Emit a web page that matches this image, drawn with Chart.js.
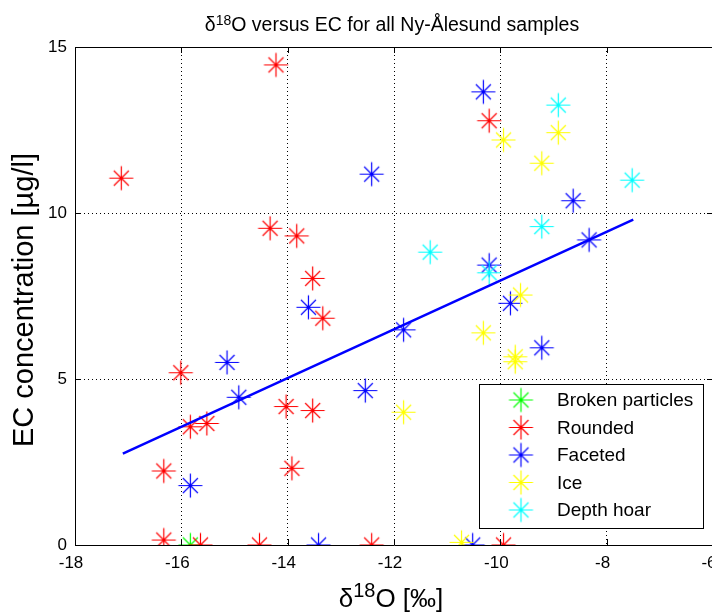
<!DOCTYPE html>
<html>
<head>
<meta charset="utf-8">
<title>d18O versus EC</title>
<script src="https://cdn.jsdelivr.net/npm/chart.js@4.4.1/dist/chart.umd.min.js"></script>
<style>
    html, body { margin: 0; padding: 0; background: #fff; overflow: hidden; }
    #wrap { width: 712px; height: 612px; overflow: hidden; }
    canvas { display: block; }
</style>
</head>
<body>
<div id="wrap"><canvas id="grafico" width="716" height="612"></canvas></div>
<script>
// Ejes
const xTicks = [-18, -16, -14, -12, -10, -8, -6];
const yTicks = [0, 5, 10, 15];

// Muestras por tipo de grano (d18O en permil, EC en ug/l)
const brokenX = [-15.83];
const brokenY = [0];

const roundedX = [-14.22, -17.13, -14.33, -13.83, -13.53, -13.34, -16.01, -15.83, -15.52, -14.03,
                  -13.53, -13.92, -16.33, -16.33, -15.64, -14.53, -12.42, -9.94, -10.21];
const roundedY = [14.46, 11.05, 9.54, 9.31, 8.03, 6.83, 5.19, 3.56, 3.66, 4.17,
                  4.05, 2.31, 2.23, 0.15, 0, 0, 0, 0, 12.78];

const facetedX = [-10.32, -12.42, -8.63, -8.33, -10.21, -9.81, -9.22, -11.82, -12.54, -10.52,
                  -13.61, -15.14, -14.92, -15.83, -13.42];
const facetedY = [13.65, 11.17, 10.37, 9.19, 8.43, 7.28, 5.94, 6.48, 4.65, 0,
                  7.16, 5.50, 4.45, 1.79, 0];

const iceX = [-9.94, -8.91, -9.22, -9.62, -10.32, -9.72, -9.72, -11.82, -10.73];
const iceY = [12.2, 12.42, 11.5, 7.53, 6.39, 5.67, 5.52, 4.0, 0.08];

const hoarX = [-8.91, -7.52, -9.22, -11.32, -10.21];
const hoarY = [13.25, 10.99, 9.59, 8.82, 8.2];

// Recta de regresion
const fitX = [-17.1, -7.5];
const fitY = [2.75, 9.8];

const FONT = "'Liberation Sans', Arial, sans-serif";

const puntos = (xs, ys) => xs.map((x, i) => ({ x: x, y: ys[i] }));

// Asterisco estilo MATLAB (brazos diagonales algo mas cortos)
function asterisco(color) {
    const c = document.createElement("canvas");
    c.width = 27;
    c.height = 27;
    const g = c.getContext("2d");
    const m = 13.5, r = 12, d = 7.5;
    g.strokeStyle = color;
    g.lineWidth = 1.2;
    g.beginPath();
    g.moveTo(m - r, m); g.lineTo(m + r, m);
    g.moveTo(m, m - r); g.lineTo(m, m + r);
    g.moveTo(m - d, m - d); g.lineTo(m + d, m + d);
    g.moveTo(m - d, m + d); g.lineTo(m + d, m - d);
    g.stroke();
    g.fillStyle = color;
    g.beginPath();
    g.arc(m, m, 1.6, 0, Math.PI * 2);
    g.fill();
    return c;
}

const series = [
    { label: "Broken particles", xs: brokenX, ys: brokenY, color: "#00ff00" },
    { label: "Rounded", xs: roundedX, ys: roundedY, color: "#ff0000" },
    { label: "Faceted", xs: facetedX, ys: facetedY, color: "#0000ff" },
    { label: "Ice", xs: iceX, ys: iceY, color: "#ffff00" },
    { label: "Depth hoar", xs: hoarX, ys: hoarY, color: "#00ffff" }
];

const datasets = series.map((s, i) => ({
    type: "scatter",
    label: s.label,
    data: puntos(s.xs, s.ys),
    pointStyle: asterisco(s.color),
    pointRadius: 12,
    borderColor: s.color,
    backgroundColor: s.color,
    order: series.length - i
}));

datasets.push({
    type: "line",
    label: "fit",
    data: puntos(fitX, fitY),
    borderColor: "#0000ff",
    borderWidth: 2.5,
    pointRadius: 0,
    fill: false,
    order: 0
});

// Texto con superindices: [texto, esSuperindice]
function textoRico(ctx, partes, cx, y, size, supSize, rise) {
    let ancho = 0;
    partes.forEach(p => {
        ctx.font = (p[1] ? supSize : size) + "px " + FONT;
        ancho += ctx.measureText(p[0]).width;
    });
    let x = cx - ancho / 2;
    partes.forEach(p => {
        ctx.font = (p[1] ? supSize : size) + "px " + FONT;
        ctx.fillText(p[0], x, p[1] ? y - rise : y);
        x += ctx.measureText(p[0]).width;
    });
}

// Titulo, etiquetas de ejes, marcas interiores y leyenda
const decoracion = {
    id: "decoracion",
    afterDraw(chart) {
        const ctx = chart.ctx;
        const a = chart.chartArea;
        const sx = chart.scales.x, sy = chart.scales.y;
        ctx.save();

        // borde superior y derecho
        ctx.strokeStyle = "#000";
        ctx.lineWidth = 1;
        ctx.setLineDash([]);
        ctx.beginPath();
        ctx.moveTo(a.left, Math.round(a.top) + 0.5);
        ctx.lineTo(a.right, Math.round(a.top) + 0.5);
        ctx.moveTo(Math.round(a.right) - 0.5, a.top);
        ctx.lineTo(Math.round(a.right) - 0.5, a.bottom);
        ctx.stroke();

        // marcas hacia adentro
        ctx.beginPath();
        xTicks.forEach(v => {
            const px = Math.round(sx.getPixelForValue(v)) + 0.5;
            ctx.moveTo(px, a.bottom); ctx.lineTo(px, a.bottom - 6);
            ctx.moveTo(px, a.top); ctx.lineTo(px, a.top + 6);
        });
        yTicks.forEach(v => {
            const py = Math.round(sy.getPixelForValue(v)) + 0.5;
            ctx.moveTo(a.left, py); ctx.lineTo(a.left + 6, py);
            ctx.moveTo(a.right, py); ctx.lineTo(a.right - 6, py);
        });
        ctx.stroke();

        const cx = (a.left + a.right) / 2;
        ctx.fillStyle = "#000";
        ctx.textBaseline = "alphabetic";
        ctx.textAlign = "left";
        textoRico(ctx, [["\u03b4", false], ["18", true], ["O versus EC for all Ny-\u00c5lesund samples", false]],
            cx - 2, 31, 19.5, 14, 6);
        textoRico(ctx, [["\u03b4", false], ["18", true], ["O [\u2030]", false]],
            cx - 3, 607, 26, 20, 10);

        ctx.save();
        ctx.translate(25, 300);
        ctx.rotate(-Math.PI / 2);
        ctx.font = "29px " + FONT;
        ctx.textAlign = "center";
        ctx.textBaseline = "middle";
        ctx.fillText("EC concentration [\u00b5g/l]", 0, 0);
        ctx.restore();

        // leyenda
        const lx = 479.5, ly = 384.5, lw = 224, lh = 144;
        ctx.fillStyle = "#fff";
        ctx.fillRect(lx, ly, lw, lh);
        ctx.strokeStyle = "#000";
        ctx.strokeRect(lx, ly, lw, lh);
        ctx.font = "19px " + FONT;
        ctx.textBaseline = "middle";
        series.forEach((s, i) => {
            const yy = 400 + i * 27.5;
            const img = chart.data.datasets[i].pointStyle;
            ctx.drawImage(img, 521 - img.width / 2, yy - img.height / 2);
            ctx.fillStyle = "#000";
            ctx.fillText(s.label, 557, yy + 1);
        });
        ctx.restore();
    }
};

// sin margen extra para las etiquetas de los extremos
function sinRelleno(s) {
    s.paddingLeft = 0;
    s.paddingRight = 0;
}

const grafico = document.getElementById("grafico").getContext("2d");

new Chart(grafico, {
    data: { datasets: datasets },
    options: {
        responsive: false,
        animation: false,
        layout: { autoPadding: false, padding: { top: 47, right: 3, left: 0, bottom: 0 } },
        plugins: {
            legend: { display: false },
            title: { display: false },
            tooltip: { enabled: false }
        },
        scales: {
            x: {
                type: "linear",
                min: xTicks[0],
                max: xTicks[xTicks.length - 1],
                afterFit: s => { s.height = 67; sinRelleno(s); },
                afterBuildTicks: s => { s.ticks = xTicks.map(v => ({ value: v })); },
                grid: { color: "#000", lineWidth: 1, drawTicks: false },
                border: { display: true, color: "#000", width: 1, dash: [1, 3] },
                ticks: {
                    color: "#000",
                    font: { family: FONT, size: 17 },
                    padding: 8,
                    labelOffset: -4,
                    maxRotation: 0
                }
            },
            y: {
                type: "linear",
                min: yTicks[0],
                max: yTicks[yTicks.length - 1],
                afterFit: s => { s.width = 75; },
                afterBuildTicks: s => { s.ticks = yTicks.map(v => ({ value: v })); },
                grid: { color: "#000", lineWidth: 1, drawTicks: false },
                border: { display: true, color: "#000", width: 1, dash: [1, 3] },
                ticks: {
                    color: "#000",
                    font: { family: FONT, size: 17 },
                    padding: 8
                }
            }
        }
    },
    plugins: [decoracion]
});
</script>
</body>
</html>
